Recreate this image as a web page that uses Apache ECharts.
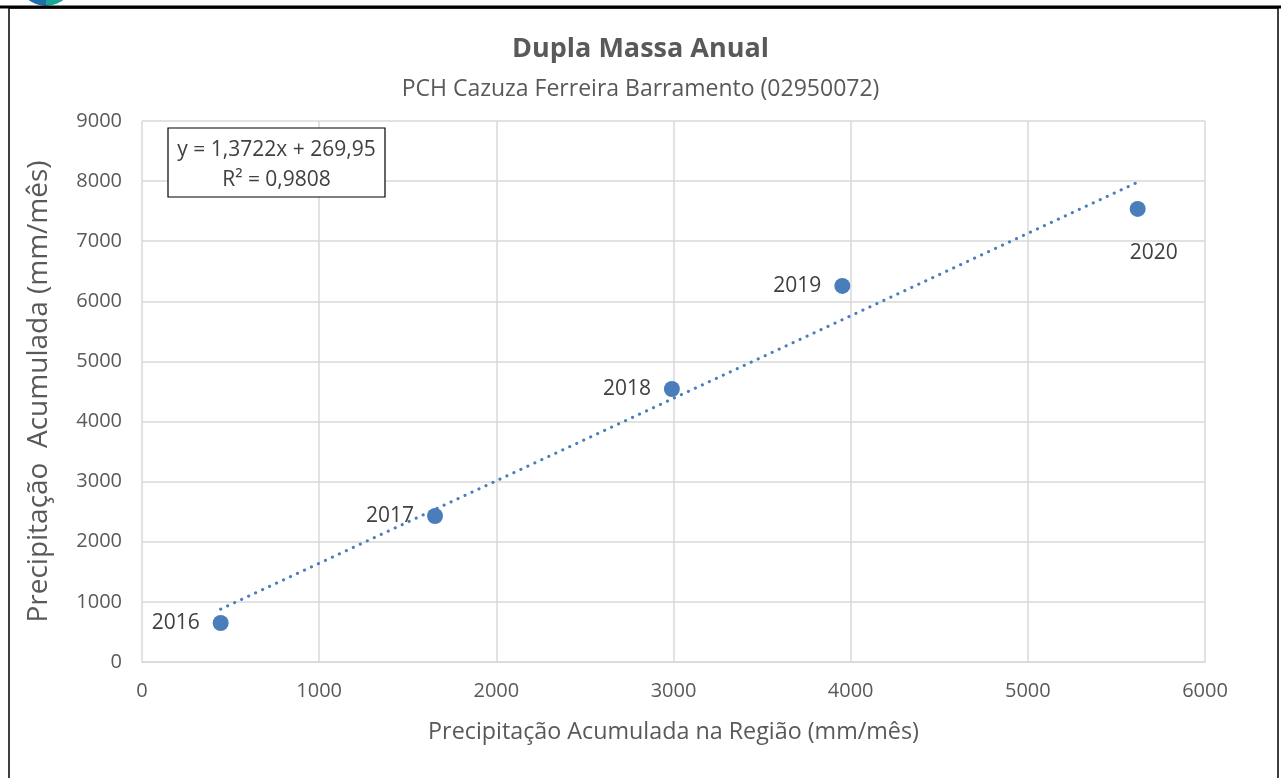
<!DOCTYPE html>
<html>
<head>
<meta charset="utf-8">
<script src="https://cdn.jsdelivr.net/npm/echarts@6/dist/echarts.min.js"></script>
<style>
  html, body { margin: 0; padding: 0; background: #ffffff; }
  #chart { width: 1281px; height: 778px; }
</style>
</head>
<body>
<div id="chart"></div>
<script>
// Annual double-mass data: regional accumulated vs. station accumulated precipitation
const years = ['2016', '2017', '2018', '2019', '2020'];
const regionAccum = [444, 1654, 2991, 3953, 5620];
const stationAccum = [649, 2429, 4542, 6256, 7537];

// Linear trend (least squares) as reported on the chart
const trendSlope = 1.3722;
const trendIntercept = 269.95;
const trendR2 = 0.9808;

const xTicks = [0, 1000, 2000, 3000, 4000, 5000, 6000];
const yTicks = [0, 1000, 2000, 3000, 4000, 5000, 6000, 7000, 8000, 9000];

// label placement per year
const labelPos = ['left', 'left', 'left', 'left', 'bottom'];

const FONT = '"Open Sans", Lato, sans-serif';
const TXT = '#595959';
const BLUE = '#4a7ebb';

const fmt = (v, d) => v.toFixed(d).replace('.', ',');

const points = regionAccum.map((x, i) => ({
  value: [x, stationAccum[i]],
  label: {
    show: true,
    formatter: years[i],
    position: labelPos[i],
    distance: labelPos[i] === 'bottom' ? 26 : 13,
    offset: labelPos[i] === 'bottom' ? [16, 0] : [0, 0]
  }
}));

const xMin = Math.min(...regionAccum);
const xMax = Math.max(...regionAccum);
const trendData = [
  [xMin, trendSlope * xMin + trendIntercept],
  [xMax, trendSlope * xMax + trendIntercept]
];

const chart = echarts.init(document.getElementById('chart'), null, { renderer: 'canvas' });

chart.setOption({
  backgroundColor: '#ffffff',
  animation: false,
  textStyle: { fontFamily: FONT },
  title: [
    {
      text: 'Dupla Massa Anual',
      left: 'center', top: 31,
      textStyle: { fontFamily: FONT, fontSize: 27, fontWeight: 'bold', color: TXT }
    },
    {
      text: 'PCH Cazuza Ferreira Barramento (02950072)',
      left: 'center', top: 73,
      textStyle: { fontFamily: FONT, fontSize: 23, fontWeight: 'normal', color: TXT }
    }
  ],
  grid: { left: 142, right: 76, top: 121, bottom: 116, show: false },
  xAxis: {
    type: 'value',
    min: xTicks[0], max: xTicks[xTicks.length - 1], interval: 1000,
    name: 'Precipitação Acumulada na Região (mm/mês)',
    nameLocation: 'middle', nameGap: 59,
    nameTextStyle: { fontFamily: FONT, fontSize: 23.3, color: TXT },
    axisLine: { show: true, lineStyle: { color: '#d9d9d9', width: 1.5 } },
    axisTick: { show: false },
    axisLabel: { fontFamily: FONT, fontSize: 20, color: TXT, margin: 19, formatter: v => String(v) },
    splitLine: { show: true, lineStyle: { color: '#d9d9d9', width: 1.5 } }
  },
  yAxis: {
    type: 'value',
    min: yTicks[0], max: yTicks[yTicks.length - 1], interval: 1000,
    name: 'Precipitação  Acumulada (mm/mês)',
    nameLocation: 'middle', nameGap: 89,
    nameTextStyle: { fontFamily: FONT, fontSize: 28, color: TXT },
    axisLine: { show: false },
    axisTick: { show: false },
    axisLabel: { fontFamily: FONT, fontSize: 20, color: TXT, margin: 20, formatter: v => String(v) },
    splitLine: { show: true, lineStyle: { color: '#d9d9d9', width: 1.5 } }
  },
  series: [
    {
      name: 'Tendência',
      type: 'line',
      data: trendData,
      symbol: 'none',
      silent: true,
      z: 2,
      lineStyle: { color: BLUE, width: 3.2, type: [0.1, 7.6], cap: 'round' }
    },
    {
      name: 'Dupla massa',
      type: 'scatter',
      data: points,
      symbol: 'circle',
      symbolSize: 16,
      z: 3,
      itemStyle: { color: BLUE, opacity: 1 },
      label: { fontFamily: FONT, fontSize: 21, color: '#404040' }
    }
  ],
  graphic: [
    // outer frame
    { type: 'rect', shape: { x: 9, y: 8, width: 1269, height: 800 },
      style: { fill: null, stroke: '#000', lineWidth: 1.5 }, z: 100 },
    { type: 'line', shape: { x1: 0, y1: 7, x2: 1281, y2: 7 },
      style: { stroke: '#000', lineWidth: 3 }, z: 100 },
    // logo fragment above the frame
    { type: 'sector', shape: { cx: 46, cy: -22, r0: 0, r: 28, startAngle: 0.15 * Math.PI, endAngle: 0.5 * Math.PI },
      style: { fill: '#1aa59a' }, z: 90 },
    { type: 'sector', shape: { cx: 46, cy: -22, r0: 0, r: 28, startAngle: 0.5 * Math.PI, endAngle: 0.85 * Math.PI },
      style: { fill: '#1f6fa8' }, z: 90 },
    // trend equation box
    { type: 'rect', shape: { x: 168, y: 128, width: 217, height: 69 },
      style: { fill: '#ffffff', stroke: '#000', lineWidth: 1.2 }, z: 100 },
    { type: 'text', x: 276.5, y: 150, z: 101,
      style: { text: 'y = ' + fmt(trendSlope, 4) + 'x + ' + fmt(trendIntercept, 2),
               fontFamily: FONT, fontSize: 21, fill: '#404040', align: 'center', verticalAlign: 'middle' } },
    { type: 'text', x: 276.5, y: 180, z: 101,
      style: { text: 'R² = ' + fmt(trendR2, 4),
               fontFamily: FONT, fontSize: 21, fill: '#404040', align: 'center', verticalAlign: 'middle' } }
  ]
});
</script>
</body>
</html>
